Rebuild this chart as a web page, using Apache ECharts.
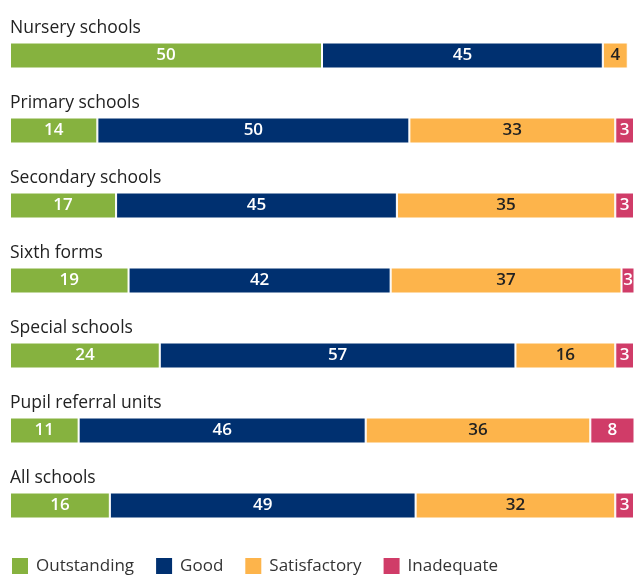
<!DOCTYPE html>
<html>
<head>
<meta charset="utf-8">
<style>
  html, body { margin: 0; padding: 0; background: #fff; }
  #chart { width: 634px; height: 576px; }
</style>
<script src="https://cdn.jsdelivr.net/npm/echarts@6/dist/echarts.min.js"></script>
</head>
<body>
<div id="chart"></div>
<script>
// Inspection outcomes by type of school (%)
const categories = ['Nursery schools', 'Primary schools', 'Secondary schools', 'Sixth forms', 'Special schools', 'Pupil referral units', 'All schools'];
const outstanding = [50, 14, 17, 19, 24, 11, 16];
const good = [45, 50, 45, 42, 57, 46, 49];
const satisfactory = [4, 33, 35, 37, 16, 36, 32];
const inadequate = [null, 3, 3, 3, 3, 8, 3];

const FONT = '"Open Sans", "Noto Sans", sans-serif';

function seg(name, data, color, textColor) {
  return {
    name: name,
    type: 'bar',
    stack: 'total',
    data: data,
    barWidth: 26,
    itemStyle: { color: color, borderColor: '#ffffff', borderWidth: 1 },
    label: {
      show: true,
      position: 'inside',
      color: textColor,
      fontFamily: FONT,
      fontSize: 17,
      fontWeight: 600,
      formatter: p => (p.value == null ? '' : String(p.value))
    },
    emphasis: { disabled: true }
  };
}

const chart = echarts.init(document.getElementById('chart'));
chart.setOption({
  animation: false,
  grid: { left: 10, right: 0, top: 18, height: 525 },
  xAxis: {
    type: 'value', min: 0, max: 100, show: false
  },
  yAxis: {
    type: 'category',
    data: categories,
    inverse: true,
    axisLine: { show: false },
    axisTick: { show: false },
    axisLabel: {
      inside: true,
      margin: 0,
      align: 'left',
      verticalAlign: 'bottom',
      padding: [0, 0, 18, 0],
      color: '#222222',
      fontFamily: FONT,
      fontSize: 17.5
    }
  },
  legend: {
    left: 10,
    bottom: 0,
    padding: 0,
    itemWidth: 18,
    itemHeight: 18,
    itemGap: 20,
    icon: 'rect',
    textStyle: { color: '#333333', fontFamily: FONT, fontSize: 17, padding: [0, 0, 0, 2] },
    data: ['Outstanding', 'Good', 'Satisfactory', 'Inadequate']
  },
  series: [
    seg('Outstanding', outstanding, '#86b23f', '#ffffff'),
    seg('Good', good, '#003070', '#ffffff'),
    seg('Satisfactory', satisfactory, '#fdb44b', '#222222'),
    seg('Inadequate', inadequate, '#d03c68', '#ffffff')
  ]
});
</script>
</body>
</html>
